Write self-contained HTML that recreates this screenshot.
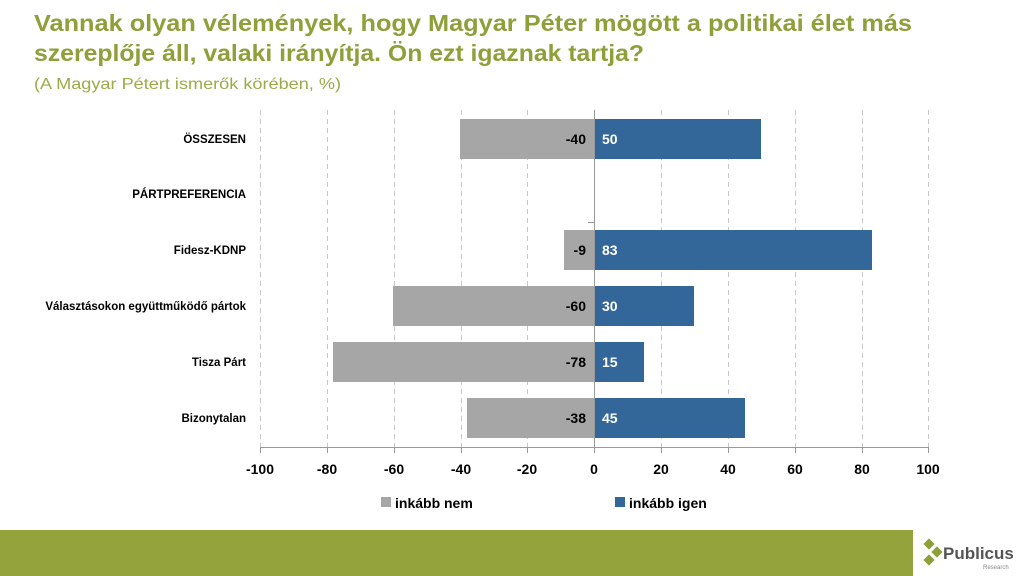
<!DOCTYPE html>
<html><head><meta charset="utf-8"><style>body{margin:0;background:#fff}svg{display:block}</style></head>
<body>
<svg width="1024" height="576" viewBox="0 0 1024 576" xmlns="http://www.w3.org/2000/svg" font-family="Liberation Sans, DejaVu Sans, sans-serif">
<text x="34" y="31" font-size="23" font-weight="bold" fill="#8f9f3a" textLength="878" lengthAdjust="spacingAndGlyphs">Vannak olyan vélemények, hogy Magyar Péter mögött a politikai élet más</text>
<text x="34" y="61" font-size="23" font-weight="bold" fill="#8f9f3a" textLength="610" lengthAdjust="spacingAndGlyphs">szereplője áll, valaki irányítja. Ön ezt igaznak tartja?</text>
<text x="34" y="89" font-size="16" fill="#9aab48" textLength="307" lengthAdjust="spacingAndGlyphs">(A Magyar Pétert ismerők körében, %)</text>
<g stroke="#c8c8c8" stroke-dasharray="5,4" stroke-width="1">
<line x1="260.5" y1="110" x2="260.5" y2="447"/><line x1="327.5" y1="110" x2="327.5" y2="447"/><line x1="394.5" y1="110" x2="394.5" y2="447"/><line x1="461.5" y1="110" x2="461.5" y2="447"/><line x1="527.5" y1="110" x2="527.5" y2="447"/><line x1="661.5" y1="110" x2="661.5" y2="447"/><line x1="728.5" y1="110" x2="728.5" y2="447"/><line x1="795.5" y1="110" x2="795.5" y2="447"/><line x1="862.5" y1="110" x2="862.5" y2="447"/><line x1="928.5" y1="110" x2="928.5" y2="447"/>
</g>
<g fill="#a6a6a6">
<rect x="460" y="119" width="134" height="40"/>
<rect x="564" y="230" width="30" height="40"/>
<rect x="393" y="286" width="201" height="40"/>
<rect x="333" y="342" width="261" height="40"/>
<rect x="467" y="398" width="127" height="40"/>
</g>
<g fill="#336699">
<rect x="594" y="119" width="167" height="40"/>
<rect x="594" y="230" width="278" height="40"/>
<rect x="594" y="286" width="100" height="40"/>
<rect x="594" y="342" width="50" height="40"/>
<rect x="594" y="398" width="151" height="40"/>
</g>
<g stroke="#999" stroke-width="1">
<line x1="594.5" y1="110" x2="594.5" y2="447"/>
<line x1="588" y1="222.5" x2="594" y2="222.5"/>
<line x1="260" y1="447.5" x2="929" y2="447.5"/>
<line x1="260.5" y1="447" x2="260.5" y2="453"/><line x1="327.5" y1="447" x2="327.5" y2="453"/><line x1="394.5" y1="447" x2="394.5" y2="453"/><line x1="461.5" y1="447" x2="461.5" y2="453"/><line x1="527.5" y1="447" x2="527.5" y2="453"/><line x1="594.5" y1="447" x2="594.5" y2="453"/><line x1="661.5" y1="447" x2="661.5" y2="453"/><line x1="728.5" y1="447" x2="728.5" y2="453"/><line x1="795.5" y1="447" x2="795.5" y2="453"/><line x1="862.5" y1="447" x2="862.5" y2="453"/><line x1="928.5" y1="447" x2="928.5" y2="453"/>
</g>
<g font-size="11.5" font-weight="bold" fill="#000" text-anchor="end">
<text x="246" y="143">ÖSSZESEN</text>
<text x="246" y="198">PÁRTPREFERENCIA</text>
<text x="246" y="254">Fidesz-KDNP</text>
<text x="246" y="310">Választásokon együttműködő pártok</text>
<text x="246" y="366">Tisza Párt</text>
<text x="246" y="422">Bizonytalan</text>
</g>
<g font-size="14" font-weight="bold" fill="#000" text-anchor="end">
<text x="586" y="144">-40</text><text x="586" y="255">-9</text><text x="586" y="311">-60</text><text x="586" y="367">-78</text><text x="586" y="423">-38</text>
</g>
<g font-size="14" font-weight="bold" fill="#fff">
<text x="602" y="144">50</text><text x="602" y="255">83</text><text x="602" y="311">30</text><text x="602" y="367">15</text><text x="602" y="423">45</text>
</g>
<g font-size="14" font-weight="bold" fill="#000" text-anchor="middle">
<text x="260" y="474">-100</text><text x="327" y="474">-80</text><text x="394" y="474">-60</text><text x="461" y="474">-40</text><text x="527" y="474">-20</text><text x="594" y="474">0</text><text x="661" y="474">20</text><text x="728" y="474">40</text><text x="795" y="474">60</text><text x="862" y="474">80</text><text x="928" y="474">100</text>
</g>
<rect x="381" y="497" width="10" height="10" fill="#a6a6a6"/>
<text x="395" y="508" font-size="14" font-weight="bold">inkább nem</text>
<rect x="615" y="497" width="10" height="10" fill="#336699"/>
<text x="629" y="508" font-size="14" font-weight="bold">inkább igen</text>
<rect x="0" y="530" width="913" height="46" fill="#95a33c"/>
<g transform="translate(930,552)">
<rect x="-5" y="-12" width="8" height="8" fill="#8fa03a" transform="rotate(45 -1 -8)"/>
<rect x="3" y="-4" width="8" height="8" fill="#8fa03a" transform="rotate(45 7 0)"/>
<rect x="-5" y="4" width="8" height="8" fill="#8fa03a" transform="rotate(45 -1 8)"/>
</g>
<text x="943" y="559" font-size="17" font-weight="bold" fill="#555">Publicus</text>
<text x="983" y="569" font-size="6" fill="#888">Research</text>
</svg>
</body></html>
